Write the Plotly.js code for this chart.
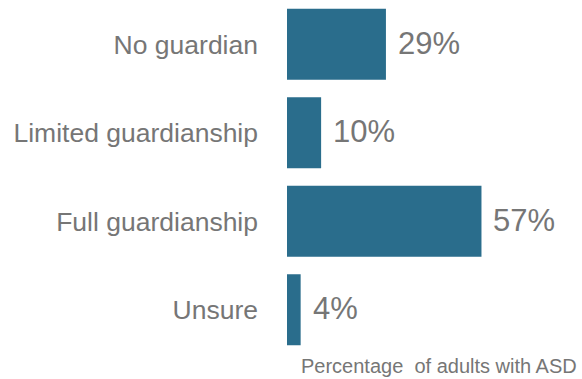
<!DOCTYPE html>
<html>
<head>
<meta charset="utf-8">
<script src="https://cdn.plot.ly/plotly-3.0.1.min.js"></script>
<style>html,body{margin:0;padding:0;background:#fff;}#chart{width:582px;height:379px;}</style>
</head>
<body>
<div id="chart"></div>
<script>
// Guardianship status of adults with ASD
const categories = ["No guardian", "Limited guardianship", "Full guardianship", "Unsure"];
const percentages = [29, 10, 57, 4];
const valueLabels = ["29%", "10%", "57%", "4%"];
const axisTitle = "Percentage  of adults with ASD";

const textGray = "#767676";
const font = "Liberation Sans, Arial, sans-serif";

const trace = {
  type: "bar",
  orientation: "h",
  y: categories,
  x: percentages,
  marker: {color: "#2a6d8c"},
  hoverinfo: "none"
};

// value labels sit just right of each bar end
const valueAnnotations = categories.map((c, i) => ({
  x: percentages[i],
  y: c,
  xref: "x", yref: "y",
  text: valueLabels[i],
  xanchor: "left",
  yanchor: "middle",
  xshift: 10,
  yshift: 1,
  showarrow: false,
  font: {family: font, size: 31, color: textGray}
}));

const layout = {
  width: 582,
  height: 379,
  margin: {l: 287, r: 5, t: 0, b: 25},
  paper_bgcolor: "#ffffff",
  plot_bgcolor: "#ffffff",
  bargap: 0.2,
  showlegend: false,
  xaxis: {
    range: [0, 85],
    showgrid: false,
    zeroline: false,
    showline: false,
    showticklabels: false,
    ticks: ""
  },
  yaxis: {
    autorange: "reversed",
    showgrid: false,
    zeroline: false,
    showline: false,
    ticks: "",
    ticklabelstandoff: 28,
    tickfont: {family: font, size: 26.5, color: textGray}
  },
  annotations: valueAnnotations.concat([{
    text: axisTitle,
    xref: "paper", yref: "paper",
    x: 1, y: 0,
    xanchor: "right", yanchor: "top",
    xshift: 2,
    yshift: 1,
    showarrow: false,
    font: {family: font, size: 20, color: textGray}
  }])
};

Plotly.newPlot("chart", [trace], layout, {displayModeBar: false, staticPlot: true});
</script>
</body>
</html>
